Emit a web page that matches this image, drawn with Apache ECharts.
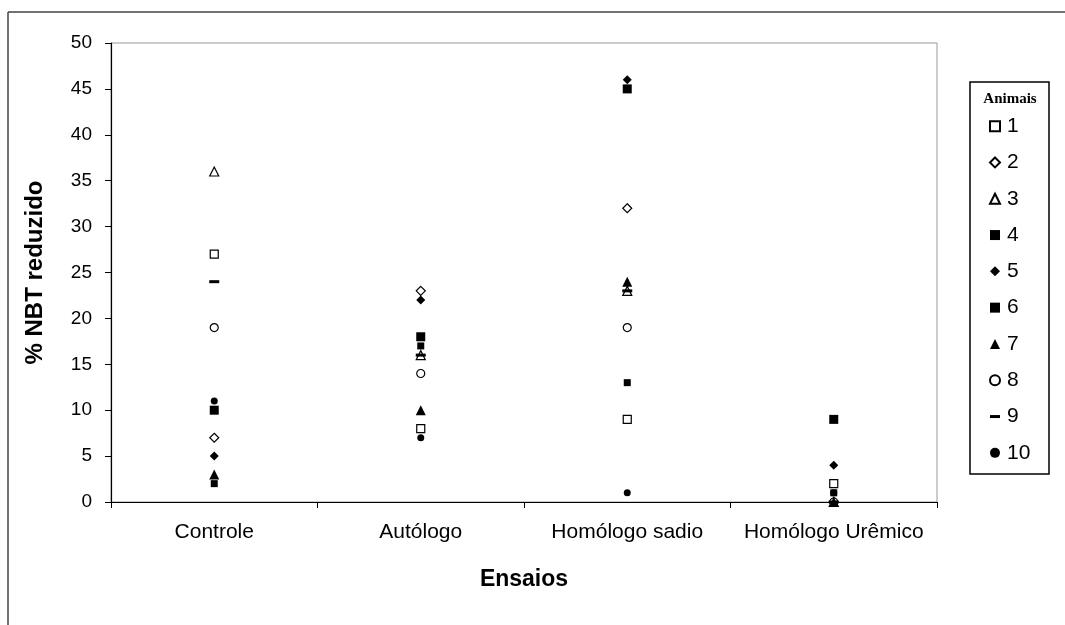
<!DOCTYPE html>
<html>
<head>
<meta charset="utf-8">
<script src="https://cdn.jsdelivr.net/npm/echarts@6/dist/echarts.min.js"></script>
<style>
html,body{margin:0;padding:0;background:#fff;}
#chart{width:1065px;height:625px;}
</style>
</head>
<body>
<div id="chart"></div>
<script>
const categories = ['Controle', 'Autólogo', 'Homólogo sadio', 'Homólogo Urêmico'];
const yTicks = [0, 5, 10, 15, 20, 25, 30, 35, 40, 45, 50];
const animalNames = ['1', '2', '3', '4', '5', '6', '7', '8', '9', '10'];

const animal1  = [27, 8, 9, 2];
const animal2  = [7, 23, 32, 0];
const animal3  = [36, 16, 23, 0];
const animal4  = [10, 18, 45, 9];
const animal5  = [5, 22, 46, 4];
const animal6  = [2, 17, 13, 1];
const animal7  = [3, 10, 24, 0];
const animal8  = [19, 14, 19, 0];
const animal9  = [24, 16, 23, 0];
const animal10 = [11, 7, 1, 1];

const animalValues = [animal1, animal2, animal3, animal4, animal5, animal6, animal7, animal8, animal9, animal10];

const DASH = 'path://M0,0H10V3H0Z';
const markerStyles = [
  { symbol: 'rect', size: 8, hollow: true },
  { symbol: 'diamond', size: 9, hollow: true },
  { symbol: 'triangle', size: 9, hollow: true },
  { symbol: 'rect', size: 9, hollow: false },
  { symbol: 'diamond', size: 9, hollow: false },
  { symbol: 'rect', size: 7, hollow: false },
  { symbol: 'triangle', size: 10, hollow: false },
  { symbol: 'circle', size: 8, hollow: true },
  { symbol: DASH, size: [10, 3], hollow: false },
  { symbol: 'circle', size: 7, hollow: false }
];

const series = animalNames.map((name, i) => {
  const m = markerStyles[i];
  return {
    name: name,
    type: 'scatter',
    symbol: m.symbol,
    symbolSize: m.size,
    z: m.hollow ? 2 : 3,
    itemStyle: m.hollow
      ? { color: '#fff', borderColor: '#000', borderWidth: 1.2, opacity: 1 }
      : { color: '#000', borderWidth: 0, opacity: 1 },
    emphasis: { disabled: true },
    data: animalValues[i]
  };
});

const chart = echarts.init(document.getElementById('chart'), null, { renderer: 'canvas' });
chart.setOption({
  animation: false,
  backgroundColor: '#fff',
  grid: {
    left: 111, right: 128, top: 43, bottom: 123,
    show: true, borderColor: '#999', borderWidth: 1, backgroundColor: 'transparent'
  },
  xAxis: {
    type: 'category',
    data: categories,
    boundaryGap: true,
    name: 'Ensaios',
    nameLocation: 'middle',
    nameGap: 66,
    nameTextStyle: { fontFamily: 'Liberation Sans, Arial', fontSize: 23, fontWeight: 'bold', color: '#000' },
    axisLine: { lineStyle: { color: '#000', width: 1.2 } },
    axisTick: { show: true, length: 6, inside: false, alignWithLabel: false, lineStyle: { color: '#000' } },
    axisLabel: { fontFamily: 'Liberation Sans, Arial', fontSize: 21, color: '#000', margin: 20, interval: 0 },
    splitLine: { show: false }
  },
  yAxis: {
    type: 'value',
    min: yTicks[0],
    max: yTicks[yTicks.length - 1],
    interval: 5,
    name: '% NBT reduzido',
    nameLocation: 'middle',
    nameGap: 64,
    nameRotate: 90,
    nameTextStyle: { fontFamily: 'Liberation Sans, Arial', fontSize: 24, fontWeight: 'bold', color: '#000' },
    axisLine: { show: true, lineStyle: { color: '#000', width: 1.2 } },
    axisTick: { show: true, length: 6, inside: false, lineStyle: { color: '#000' } },
    axisLabel: { fontFamily: 'Liberation Sans, Arial', fontSize: 19, color: '#000', margin: 19 },
    splitLine: { show: false }
  },
  legend: {
    orient: 'vertical',
    left: 989,
    top: 108,
    padding: 0,
    itemGap: 0,
    itemWidth: 10,
    itemHeight: 10,
    symbolKeepAspect: true,
    data: animalNames,
    textStyle: { fontFamily: 'Liberation Sans, Arial', fontSize: 21, color: '#000', lineHeight: 36.3, padding: [0, 0, 0, 2] },
    selectedMode: false
  },
  graphic: [
    { type: 'line', shape: { x1: 8, y1: 12, x2: 1065, y2: 12 }, style: { stroke: '#444', lineWidth: 1.5 } },
    { type: 'line', shape: { x1: 8, y1: 12, x2: 8, y2: 625 }, style: { stroke: '#444', lineWidth: 1.5 } },
    { type: 'rect', shape: { x: 970, y: 82, width: 79, height: 392 }, style: { fill: 'none', stroke: '#000', lineWidth: 1.5 } },
    { type: 'text', x: 1010, y: 99, style: { text: 'Animais', font: 'bold 15px "Liberation Serif", "Times New Roman", serif', fill: '#000', align: 'center', verticalAlign: 'middle' } }
  ],
  series: series
});
</script>
</body>
</html>
